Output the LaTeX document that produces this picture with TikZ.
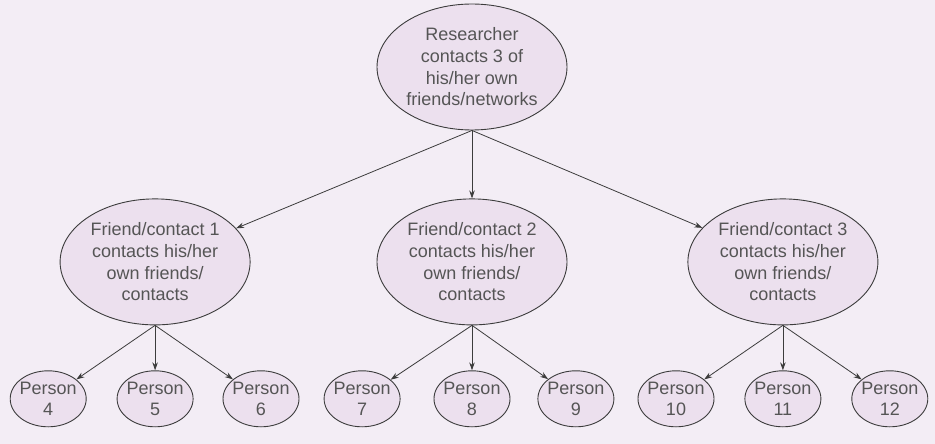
\documentclass[tikz,border=0pt]{standalone}
\usepackage{fontspec}
\setmainfont{Liberation Sans}
\usepackage{tikz}
\usetikzlibrary{arrows.meta,positioning,shapes.geometric}
\usepackage{xcolor}
\definecolor{paperlilac}{RGB}{243,237,245}
\definecolor{softlilac}{RGB}{236,224,238}
\definecolor{darkline}{RGB}{60,60,60}
\definecolor{textgray}{RGB}{85,85,85}
\tikzset{
  bubble/.style={ellipse, draw=darkline, line width=0.9pt, fill=softlilac,
                 inner sep=0pt, minimum width=190pt, minimum height=126pt,
                 align=center, text=textgray, font=\fontsize{18}{21.7}\selectfont},
  person/.style={bubble, inner xsep=-2pt, minimum width=76pt, minimum height=56pt},
  arrow/.style={-{Stealth[length=8pt,width=5.5pt]}, line width=0.8pt, darkline},
}
\begin{document}
\begin{tikzpicture}[x=1pt,y=1pt]
\fill[paperlilac] (0,0) rectangle (935,-444);
\useasboundingbox (0,0) rectangle (935,-444);
% researcher and first ring
\node[bubble] (res) at (472,-67)
 {Researcher\\contacts 3 of\\his/her own\\friends/networks};
\node[bubble, below=68pt of res] (friend2)
 {Friend/contact 2\\contacts his/her\\own friends/\\contacts};
\node[bubble, left=126pt of friend2] (friend1)
 {Friend/contact 1\\contacts his/her\\own friends/\\contacts};
\node[bubble, right=120pt of friend2] (friend3)
 {Friend/contact 3\\contacts his/her\\own friends/\\contacts};
% second ring
\node[person, below=45pt of friend1] (p5) {Person\\5};
\node[person, left=30pt of p5] (p4) {Person\\4};
\node[person, right=29pt of p5] (p6) {Person\\6};
\node[person, below=45pt of friend2] (p8) {Person\\8};
\node[person, left=33pt of p8] (p7) {Person\\7};
\node[person, right=27pt of p8] (p9) {Person\\9};
\node[person, below=45pt of friend3] (p11) {Person\\11};
\node[person, left=30pt of p11] (p10) {Person\\10};
\node[person, right=30pt of p11] (p12) {Person\\12};
\draw[arrow] (res.south) -- (friend1);
\draw[arrow] (res.south) -- (friend2);
\draw[arrow] (res.south) -- (friend3);
\draw[arrow] (friend1.south) -- (p4);
\draw[arrow] (friend1.south) -- (p5);
\draw[arrow] (friend1.south) -- (p6);
\draw[arrow] (friend2.south) -- (p7);
\draw[arrow] (friend2.south) -- (p8);
\draw[arrow] (friend2.south) -- (p9);
\draw[arrow] (friend3.south) -- (p10);
\draw[arrow] (friend3.south) -- (p11);
\draw[arrow] (friend3.south) -- (p12);
\end{tikzpicture}
\end{document}
